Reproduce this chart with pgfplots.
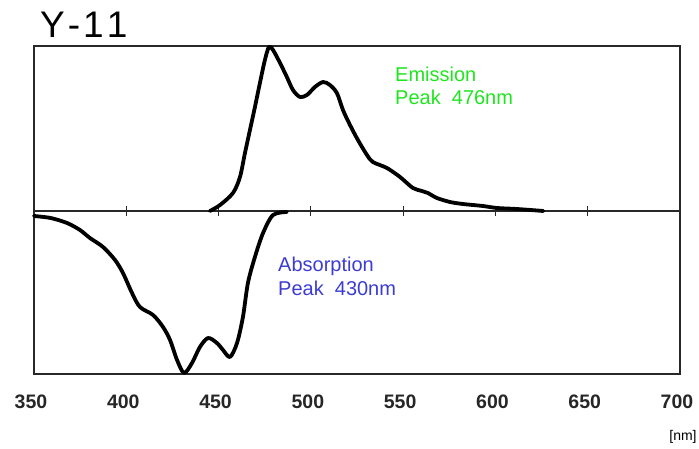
\documentclass[border=0pt]{standalone}
\usepackage{pgfplots}
\pgfplotsset{compat=1.18}
\usepackage{fontspec}
\setmainfont{Liberation Sans}
\definecolor{emgreen}{RGB}{30,230,30}
\definecolor{abblue}{RGB}{60,60,210}
\definecolor{boxgray}{RGB}{40,40,40}
\begin{document}
\begin{tikzpicture}[x=1pt,y=1pt]
\useasboundingbox (0,0) rectangle (699,449);
\begin{axis}[
  at={(34pt,75pt)}, anchor=south west,
  scale only axis, width=646pt, height=328pt,
  xmin=350, xmax=700, ymin=-163, ymax=165,
  axis line style={boxgray, line width=1.4pt},
  xtick={350,400,...,700}, ytick=\empty,
  major tick length=0pt,
  xticklabel style={font=\fontsize{19.5}{19.5}\selectfont\bfseries, text=black!85, yshift=-17pt, xshift=-3pt},
  /pgf/number format/assume math mode=true,
  clip=false,
]
\draw[boxgray, line width=1.4pt] (axis cs:350,0) -- (axis cs:700,0);
\pgfplotsinvokeforeach{400,450,500,550,600,650}{
  \draw[boxgray, line width=1.2pt] (axis cs:#1,-5) -- (axis cs:#1,5);
}
\addplot[black, line width=3.8pt, smooth, tension=0.5, line join=round, line cap=round] coordinates {
(445.3,0) (450.8,6) (457.8,18) (461.6,34) (464.3,58) (467,81) (469.7,104) (472.4,128)
(475.1,151) (477.3,164) (479.5,161) (483.3,148) (487,134) (490.3,121) (494.1,114)
(497.9,116) (502.2,124) (506.6,129) (510.3,126) (514.1,118) (517.4,101) (521.2,86)
(525.5,71) (530.4,56) (533.6,49) (541.2,43) (548.3,34) (555.3,23) (560.2,20) (563.4,18)
(568.3,13) (575.4,9) (582.4,7) (593.2,5) (600.8,3) (611.6,2) (626,0)
};
\addplot[black, line width=3.8pt, smooth, tension=0.5, line join=round, line cap=round] coordinates {
(350,-5) (359,-7) (367.9,-12) (374.9,-19) (380.3,-27) (387.4,-36) (393.9,-49) (398.2,-62)
(403.1,-82) (407.4,-96) (414.5,-104) (419.9,-116) (423.7,-129) (427.5,-149) (431.3,-162)
(435.6,-152) (439.9,-136) (444.3,-127) (449.1,-132) (452.4,-139) (456.2,-146) (460,-132)
(463.2,-106) (465.9,-72) (469.7,-46) (474.1,-22) (479.5,-4) (487,-1)
};
\end{axis}
\node[anchor=base west, inner sep=0pt, font=\fontsize{37}{37}\selectfont] at (40,411) {Y\kern3pt-\kern3pt1\kern3pt1};
\node[anchor=base west, inner sep=0pt, text=emgreen, font=\fontsize{20}{20}\selectfont] at (395,367) {Emission};
\node[anchor=base west, inner sep=0pt, text=emgreen, font=\fontsize{20}{20}\selectfont] at (395,344) {Peak\ \ 476nm};
\node[anchor=base west, inner sep=0pt, text=abblue, font=\fontsize{20}{20}\selectfont] at (278,177) {Absorption};
\node[anchor=base west, inner sep=0pt, text=abblue, font=\fontsize{20}{20}\selectfont] at (278,153) {Peak\ \ 430nm};
\node[anchor=center, inner sep=0pt, font=\fontsize{14}{14}\selectfont] at (683,12) {[nm]};
\end{tikzpicture}
\end{document}
